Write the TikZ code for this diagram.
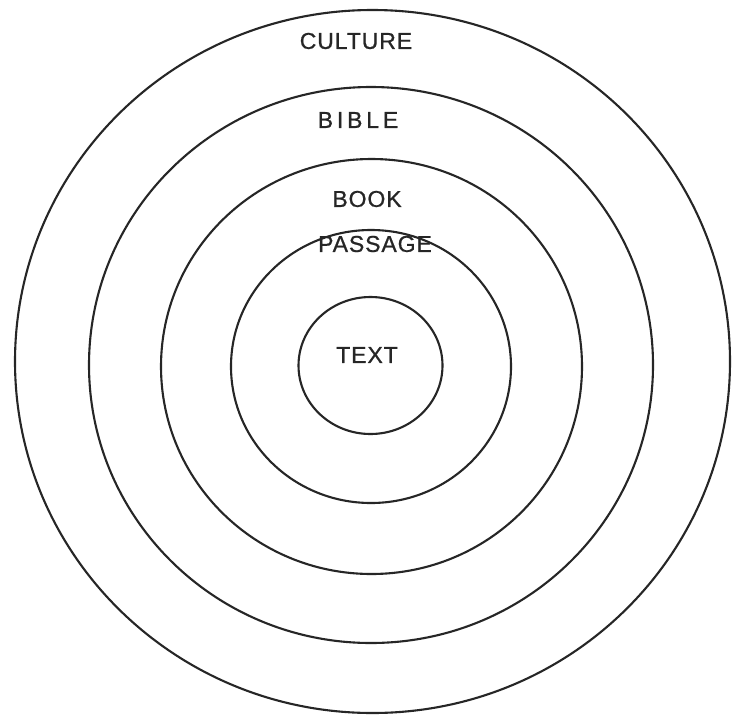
\documentclass[tikz,border=0pt]{standalone}
\usepackage{fontspec}
\setmainfont{Liberation Sans}
\newfontfamily\lblfont[FakeBold=0.8,LetterSpace=4]{Liberation Sans}
\begin{document}
\begin{tikzpicture}[x=1pt,y=-1pt,
  ring/.style={draw=black!85,line width=2.1pt},
  lbl/.style={inner sep=0pt,font=\lblfont\fontsize{23}{23}\selectfont,text=black!85}]
\useasboundingbox (0,0) rectangle (733,715);
\fill[white] (0,0) rectangle (733,715);
\draw[ring] (372.5,361.5) ellipse [x radius=357.5, y radius=351.5];
\draw[ring] (371,365) ellipse [x radius=282, y radius=278];
\draw[ring] (371.5,366.5) ellipse [x radius=210.5, y radius=207.5];
\draw[ring] (371,366.5) ellipse [x radius=140, y radius=136.5];
\draw[ring] (370.5,365.5) ellipse [x radius=72, y radius=68.5];
\node[lbl] (culture) at (356,41) {CULTURE};
\node[lbl] (bible) at (358,120) {B\,I\,B\,L\,E};
\node[lbl] (book) at (367,199) {BOOK};
\node[lbl] (passage) at (375,244) {PASSAGE};
\node[lbl] (text) at (367,355) {TEXT};
\end{tikzpicture}
\end{document}
